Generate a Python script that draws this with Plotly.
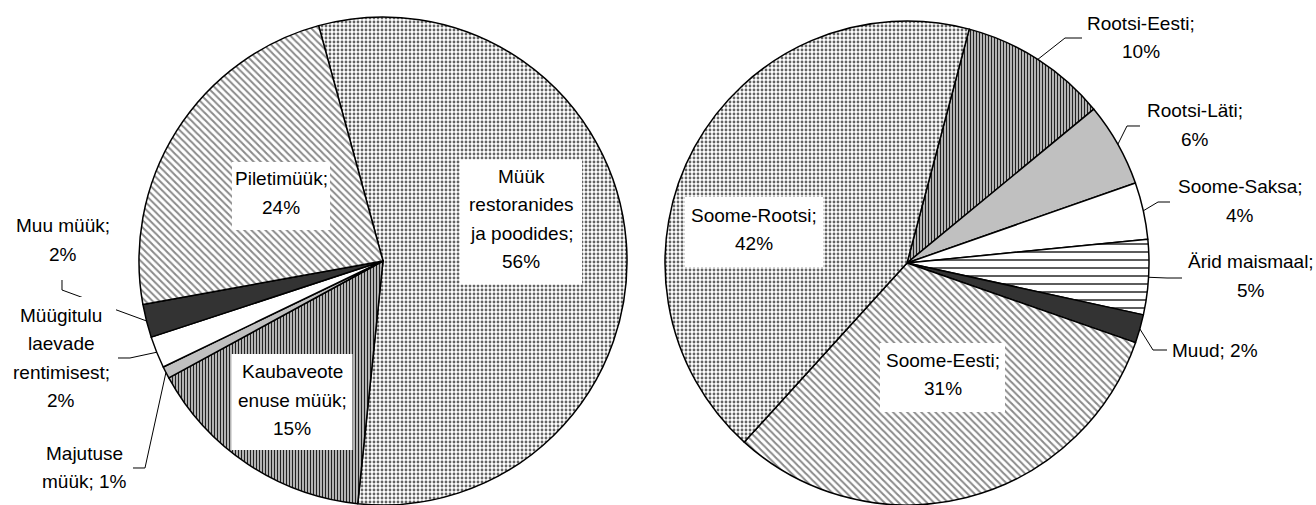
import math
import plotly.graph_objects as go

W, H = 1316, 505

# ---------------- data ----------------
left_labels = ["Müük restoranides ja poodides", "Kaubaveote enuse müük", "Majutuse müük",
               "Müügitulu laevade rentimisest", "Muu müük", "Piletimüük"]
left_values = [55.9, 15.4, 0.8, 2.1, 2.2, 23.6]
left_text = [["Müük", "restoranides", "ja poodides;", "56%"],
             ["Kaubaveote", "enuse müük;", "15%"],
             ["Majutuse", "müük; 1%"],
             ["Müügitulu", "laevade", "rentimisest;", "2%"],
             ["Muu müük;", "2%"],
             ["Piletimüük;", "24%"]]

right_labels = ["Rootsi-Eesti", "Rootsi-Läti", "Soome-Saksa", "Ärid maismaal",
                "Muud", "Soome-Eesti", "Soome-Rootsi"]
right_values = [9.9, 5.6, 3.8, 5.0, 1.9, 31.4, 42.4]
right_text = [["Rootsi-Eesti;", "10%"],
              ["Rootsi-Läti;", "6%"],
              ["Soome-Saksa;", "4%"],
              ["Ärid maismaal;", "5%"],
              ["Muud; 2%"],
              ["Soome-Eesti;", "31%"],
              ["Soome-Rootsi;", "42%"]]

# ---------------- styles ----------------
DOT = dict(shape=".", fg="#646464", bg="#ffffff", size=4, sol=0.4, color="#c4c4c4")
DIAG = dict(shape="\\", fg="#8a8a8a", bg="#ffffff", size=5, sol=0.4, color="#d0d0d0")
VERT = dict(shape="|", fg="#202020", bg="#b4b4b4", size=3, sol=0.33, color="#808080")
DASH = dict(shape="-", fg="#333333", bg="#ffffff", size=8, sol=0.2, color="#ffffff")
LGRAY = dict(shape="", fg="#c0c0c0", bg="#c0c0c0", size=8, sol=0.3, color="#c0c0c0")
DARK = dict(shape="", fg="#333333", bg="#333333", size=8, sol=0.3, color="#333333")
WHITE = dict(shape="", fg="#ffffff", bg="#ffffff", size=8, sol=0.3, color="#ffffff")

left_styles = [DOT, VERT, LGRAY, WHITE, DARK, DIAG]
right_styles = [VERT, LGRAY, WHITE, DASH, DARK, DIAG, DOT]

# pie geometry (pixels)
LEFT_PIE = dict(cx=383, cy=261, r=244, rotation=-15.3)
RIGHT_PIE = dict(cx=907, cy=263, r=242, rotation=14.9)

# label layout (pixels): centre, optional box (w, h, cx, cy), leader via-points
left_layout = [
    dict(c=(521, 219), box=(122, 125, 521, 222), via=None),
    dict(c=(292, 400), box=(121, 96, 292, 402), via=None),
    dict(c=(84, 467.5), box=None, via=[(145, 468), (133, 468)]),
    dict(c=(61, 358), box=(108, 118, 62, 356), via=[(130, 358), (118, 358)]),
    dict(c=(63, 240), box=None, via=[(62, 290), (62, 280)]),
    dict(c=(281, 193), box=(98, 68, 281, 196), via=None),
]
right_layout = [
    dict(c=(1141, 37.5), box=None, via=[(1065, 38), (1082, 38)]),
    dict(c=(1195, 125), box=None, via=[(1127, 126), (1140, 126)]),
    dict(c=(1240, 201), box=None, via=[(1158, 202), (1170, 202)]),
    dict(c=(1251, 276), box=None, via=[(1167, 278), (1182, 278)]),
    dict(c=(1215, 350), box=None, via=[(1153, 350), (1167, 350)]),
    dict(c=(943, 374.5), box=(125, 69, 942.5, 377.5), via=None),
    dict(c=(754, 229.5), box=(138, 70, 754, 232), via=None),
]

FONT = dict(family="Liberation Sans, Arial, sans-serif", size=19, color="#000000")
PITCH = 28.3


def px(x):
    return x / W


def py(y):
    return 1 - y / H


def pie_trace(labels, values, styles, g):
    return go.Pie(
        labels=labels, values=values, sort=False, direction="clockwise",
        rotation=g["rotation"], textinfo="none", hoverinfo="label+percent",
        showlegend=False,
        domain=dict(x=[px(g["cx"] - g["r"]), px(g["cx"] + g["r"])],
                    y=[py(g["cy"] + g["r"]), py(g["cy"] - g["r"])]),
        marker=dict(
            colors=[s["color"] for s in styles],
            line=dict(color="#000000", width=1.5),
            pattern=dict(shape=[s["shape"] for s in styles],
                         fgcolor=[s["fg"] for s in styles],
                         bgcolor=[s["bg"] for s in styles],
                         size=[s["size"] for s in styles],
                         solidity=[s["sol"] for s in styles],
                         fillmode="replace"),
        ),
    )


fig = go.Figure()
fig.add_trace(pie_trace(left_labels, left_values, left_styles, LEFT_PIE))
fig.add_trace(pie_trace(right_labels, right_values, right_styles, RIGHT_PIE))

leader_shapes, box_shapes, annotations = [], [], []


def add_labels(values, texts, lay, g):
    total = sum(values)
    ang = g["rotation"]
    for v, lines, L in zip(values, texts, lay):
        a0 = ang
        ang += v / total * 360
        mid = math.radians((a0 + ang) / 2)
        if L["via"]:
            ex = g["cx"] + g["r"] * math.sin(mid)
            ey = g["cy"] - g["r"] * math.cos(mid)
            pts = [(ex, ey)] + L["via"]
            path = "M " + " L ".join(f"{px(x):.5f},{py(y):.5f}" for x, y in pts)
            leader_shapes.append(dict(type="path", path=path, xref="paper", yref="paper",
                                      line=dict(color="#000000", width=1), layer="above"))
        if L["box"]:
            bw, bh, bx, by = L["box"]
            box_shapes.append(dict(type="rect", xref="paper", yref="paper",
                                   x0=px(bx - bw / 2), x1=px(bx + bw / 2),
                                   y0=py(by + bh / 2), y1=py(by - bh / 2),
                                   fillcolor="#ffffff", line=dict(width=0), layer="above"))
        cx, cy = L["c"]
        n = len(lines)
        for i, t in enumerate(lines):
            yy = cy + (i - (n - 1) / 2) * PITCH
            annotations.append(dict(x=px(cx), y=py(yy), xref="paper", yref="paper",
                                    text=t, showarrow=False, xanchor="center",
                                    yanchor="middle", font=FONT))


add_labels(left_values, left_text, left_layout, LEFT_PIE)
add_labels(right_values, right_text, right_layout, RIGHT_PIE)

fig.update_layout(
    width=W, height=H, margin=dict(l=0, r=0, t=0, b=0),
    paper_bgcolor="#ffffff", plot_bgcolor="#ffffff",
    shapes=leader_shapes + box_shapes, annotations=annotations,
)

fig.write_html(
    "out.html",
    config={"displayModeBar": False},
    post_script="document.body.style.margin='0px';document.body.style.overflow='hidden';",
)
